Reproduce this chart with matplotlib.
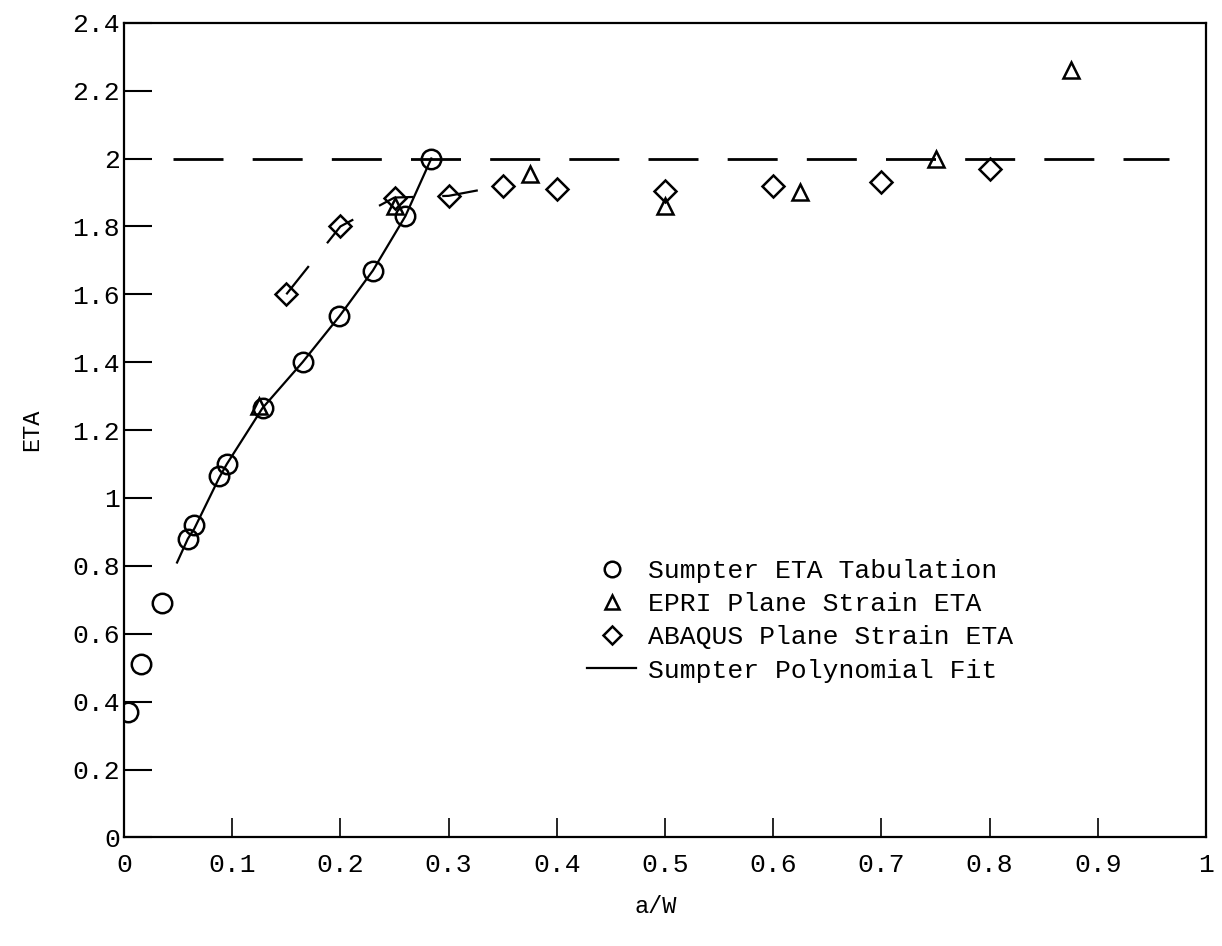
import matplotlib
matplotlib.use('Agg')
import matplotlib.pyplot as plt

# Sumpter ETA tabulation (circles)
sumpter_aw = [0.004, 0.016, 0.035, 0.059, 0.065, 0.088, 0.095, 0.128, 0.165, 0.199, 0.230, 0.260, 0.284]
sumpter_eta = [0.37, 0.51, 0.69, 0.88, 0.92, 1.065, 1.10, 1.265, 1.40, 1.535, 1.67, 1.83, 2.00]

# EPRI plane strain (triangles)
epri_aw = [0.125, 0.25, 0.375, 0.5, 0.625, 0.75, 0.875]
epri_eta = [1.27, 1.86, 1.955, 1.86, 1.90, 2.00, 2.26]

# ABAQUS plane strain (diamonds)
abaqus_aw = [0.15, 0.2, 0.25, 0.3, 0.35, 0.4, 0.5, 0.6, 0.7, 0.8]
abaqus_eta = [1.60, 1.80, 1.885, 1.89, 1.92, 1.91, 1.905, 1.92, 1.93, 1.97]

# Sumpter polynomial fit
fit_aw = [0.049, 0.059, 0.065, 0.088, 0.095, 0.128, 0.165, 0.199, 0.230, 0.260, 0.284]
fit_eta = [0.81, 0.88, 0.91, 1.06, 1.10, 1.265, 1.40, 1.535, 1.67, 1.83, 2.00]

# plastic limit ETA = 2
limit_aw = [0.045, 0.966]
limit_eta = [2.0, 2.0]

xticks = [0, 0.1, 0.2, 0.3, 0.4, 0.5, 0.6, 0.7, 0.8, 0.9, 1]
xtick_labels = ['0', '0.1', '0.2', '0.3', '0.4', '0.5', '0.6', '0.7', '0.8', '0.9', '1']
yticks = [0, 0.2, 0.4, 0.6, 0.8, 1, 1.2, 1.4, 1.6, 1.8, 2, 2.2, 2.4]
ytick_labels = ['0', '0.2', '0.4', '0.6', '0.8', '1', '1.2', '1.4', '1.6', '1.8', '2', '2.2', '2.4']

plt.rcParams['font.family'] = ['Liberation Mono', 'DejaVu Sans Mono']
plt.rcParams['lines.scale_dashes'] = False

fig = plt.figure(figsize=(12.22, 9.46), dpi=100)
ax = fig.add_axes([0.1015, 0.1147, 0.8854, 0.8613])

ax.plot(limit_aw, limit_eta, color='black', lw=2.0, dashes=(36, 21))
ax.plot(abaqus_aw[:5], abaqus_eta[:5], color='black', lw=1.6, dashes=(26, 21))
ax.plot(fit_aw, fit_eta, color='black', lw=1.6, label='Sumpter Polynomial Fit')

ax.plot(sumpter_aw, sumpter_eta, 'o', ms=14, mfc='none', mec='black', mew=1.8,
        label='Sumpter ETA Tabulation')
ax.plot(epri_aw, epri_eta, '^', ms=12, mfc='none', mec='black', mew=1.8,
        label='EPRI Plane Strain ETA')
ax.plot(abaqus_aw, abaqus_eta, 'D', ms=11.5, mfc='none', mec='black', mew=1.8,
        label='ABAQUS Plane Strain ETA')

ax.set_xlim(0, 1)
ax.set_ylim(0, 2.4)
ax.set_xticks(xticks)
ax.set_xticklabels(xtick_labels)
ax.set_yticks(yticks)
ax.set_yticklabels(ytick_labels)
ax.tick_params(axis='y', direction='in', length=20, width=1.5, pad=3, labelsize=19)
ax.tick_params(axis='x', direction='in', length=14, width=1.2, pad=11, labelsize=19)
for s in ax.spines.values():
    s.set_linewidth(1.6)

ax.set_xlabel('a/W', fontsize=17)
ax.xaxis.set_label_coords(0.491, -0.071)
ax.set_ylabel('ETA', fontsize=17)
ax.yaxis.set_label_coords(-0.075, 0.50)

h, l = ax.get_legend_handles_labels()
orden = [1, 2, 3, 0]
ax.legend([h[i] for i in orden], [l[i] for i in orden], loc='upper left',
          bbox_to_anchor=(0.428, 0.342), frameon=False, fontsize=19,
          markerscale=0.8, handlelength=1.85, handletextpad=0.45,
          labelspacing=0.35, borderpad=0, borderaxespad=0)

fig.savefig('out.png', dpi=100)
